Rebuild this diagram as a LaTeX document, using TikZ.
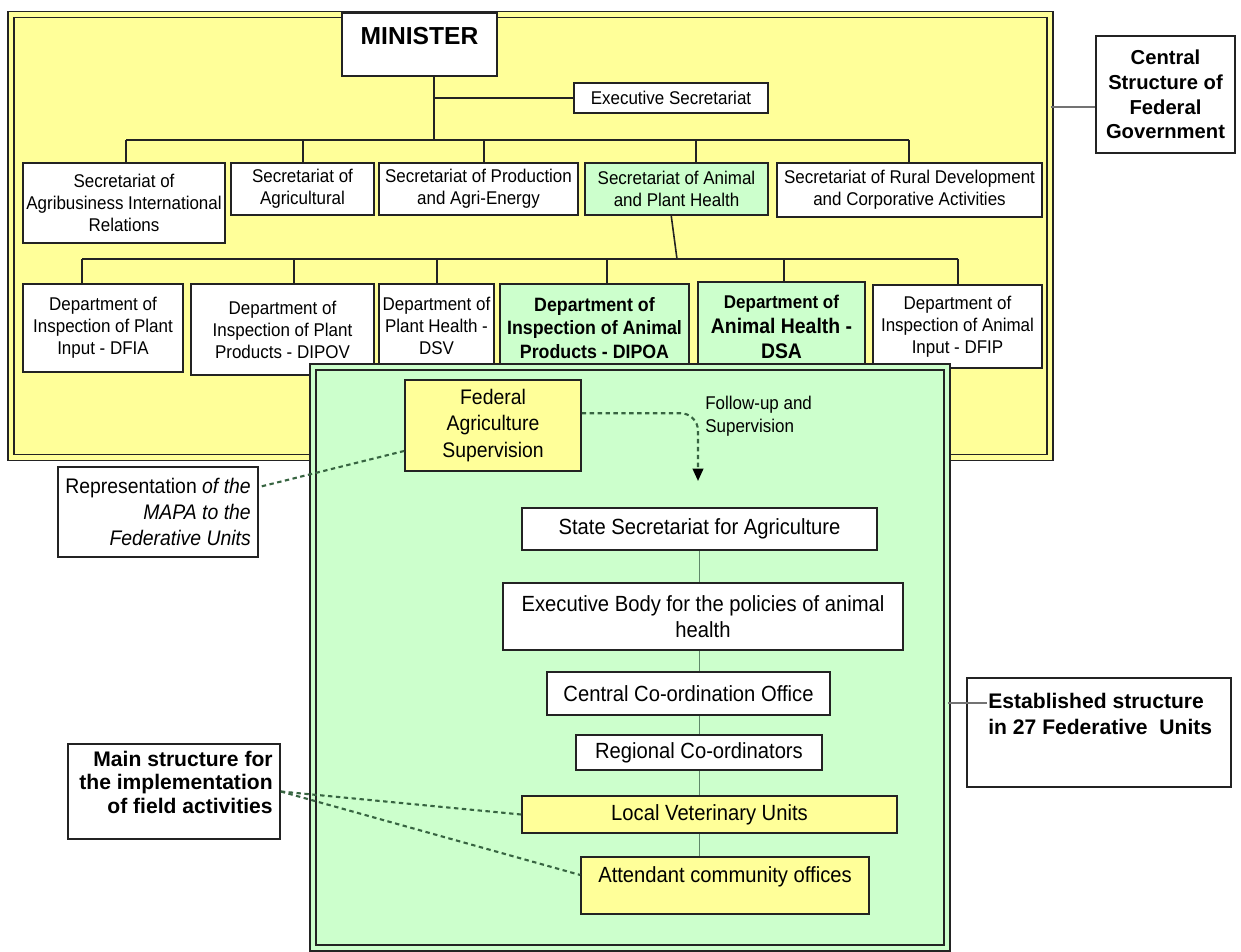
\documentclass[tikz,border=0pt]{standalone}
\usepackage{fontspec}
\setmainfont{Liberation Sans}
\newfontfamily\narrowsf[FakeStretch=0.92]{Liberation Sans}
\usetikzlibrary{arrows.meta}

\definecolor{mapayellow}{RGB}{255,255,153}
\definecolor{mapagreen}{RGB}{204,255,204}
\definecolor{boxline}{RGB}{35,35,35}
\definecolor{dashgreen}{RGB}{55,100,65}
\definecolor{stemgreen}{RGB}{95,135,105}

\tikzset{
  sz/.style 2 args={minimum width=#1*0.02cm, minimum height=#2*0.02cm},
  unit/.style={draw=boxline, line width=0.9pt, fill=white, inner sep=0pt, align=center,
    font=\narrowsf\fontsize{10.5}{12.5}\selectfont},
  lowunit/.style={unit, font=\narrowsf\fontsize{12.5}{15}\selectfont},
  note/.style={draw=boxline, line width=0.9pt, fill=white, inner sep=0pt},
  bigframe/.style={draw=boxline, line width=0.8pt, double=#1, double distance=2.6pt, fill=#1, inner sep=0pt},
  tie/.style={draw=boxline, line width=0.9pt},
  lnk/.style={draw=dashgreen, line width=1.2pt, dash pattern=on 2.5pt off 2pt},
  stem/.style={draw=stemgreen, line width=1pt},
}

\begin{document}
\begin{tikzpicture}[x=0.02cm, y=-0.02cm]
\useasboundingbox (0,0) rectangle (1241,952);

% central structure of the ministry
\node[bigframe=mapayellow, sz={1039}{443}] (yframe) at (530.5,236) {};

\node[unit, sz={155}{63}, font=\bfseries\fontsize{14}{16}\selectfont, text height=18.1pt, text depth=17.6pt] (minister) at (419.5,44.5) {MINISTER};
\node[unit, sz={194}{30}] (exec) at (671,98) {Executive Secretariat};

\node[unit, sz={202}{80}] (sab) at (124,203) {Secretariat of\\Agribusiness International\\Relations};
\node[unit, sz={143}{52}] (sag) at (302.5,189) {Secretariat of\\Agricultural};
\node[unit, sz={199}{52}] (spr) at (478.5,189) {Secretariat of Production\\and Agri-Energy};
\node[unit, sz={183}{52}, fill=mapagreen] (sap) at (676.5,189) {Secretariat of Animal\\and Plant Health};
\node[unit, sz={265}{54}] (srd) at (909.5,190) {Secretariat of Rural Development\\and Corporative Activities};

\node[unit, sz={160}{88}] (dfia) at (103,328) {Department of\\Inspection of Plant\\Input - DFIA};
\node[unit, sz={183}{91}] (dipov) at (282.5,329.5) {Department of\\Inspection of Plant\\Products - DIPOV};
\node[unit, sz={115}{84}] (dsv) at (436.5,326) {Department of\\Plant Health -\\DSV};
\node[unit, sz={189}{88}, fill=mapagreen, font=\narrowsf\bfseries\fontsize{11}{13.5}\selectfont] (dipoa) at (594.5,328) {Department of\\Inspection of Animal\\Products - DIPOA};
\node[unit, sz={167}{90}, fill=mapagreen, font=\narrowsf\bfseries\fontsize{10.5}{14}\selectfont] (dsa) at (781.5,327) {Department of\\{\fontsize{12}{14}\selectfont Animal Health -}\\{\fontsize{12}{14}\selectfont DSA}};
\node[unit, sz={169}{83}] (dfip) at (957.5,326.5) {Department of\\Inspection of Animal\\Input - DFIP};

% hierarchy lines
\coordinate (mtrunk) at (434,140);
\draw[tie] (minister.south -| mtrunk) -- (mtrunk);
\draw[tie] (mtrunk |- exec.west) -- (exec.west);
\foreach \n/\x in {sab/126, sag/303, spr/484, sap/696, srd/909}
  \draw[tie] (\x,140) coordinate (b-\n) -- (b-\n |- \n.north);
\draw[tie] (b-sab) -- (b-srd);
\foreach \n/\x in {dfia/82, dipov/294, dsv/437, dipoa/607, dsa/784, dfip/958}
  \draw[tie] (\x,259) coordinate (d-\n) -- (d-\n |- \n.north);
\draw[tie] (d-dfia) -- (d-dfip);
\coordinate (dlink) at (677,259);
\draw[tie] ([xshift=-3pt]sap.south) -- (dlink);

\node[note, sz={139}{117}, align=center, font=\bfseries\fontsize{11.5}{14}\selectfont] (central) at (1165.5,94.5) {Central\\Structure of\\Federal\\Government};
\coordinate (cgin) at ([yshift=-7pt]central.west);
\draw[draw=black!55, line width=1pt] (cgin -| yframe.east) -- (cgin);

% structure in the federative units
\node[bigframe=mapagreen, sz={634}{581}] (gframe) at (630,657.5) {};

\node[unit, sz={176}{91}, fill=mapayellow, font=\narrowsf\fontsize{12}{15}\selectfont] (fas) at (493,425.5) {Federal\\Agriculture\\Supervision};
\node[inner sep=0pt, anchor=west, align=left, font=\narrowsf\fontsize{10.5}{13}\selectfont] (fus) at (705,416) {Follow-up and\\Supervision};
\coordinate (futip) at (698,481);
\draw[lnk, rounded corners=10pt, -{Triangle[width=6pt, length=7pt, color=black]}] ([yshift=7pt]fas.east) -| (futip);

\node[note, sz={200}{90}, align=right, font=\narrowsf\fontsize{12}{15}\selectfont] (repr) at (158,512) {Representation \textit{of the}\\\textit{MAPA to the}\\\textit{Federative Units}};
\draw[lnk] ([yshift=-14.5pt]fas.west) -- ([yshift=14.2pt]repr.east);

\node[lowunit, sz={355}{42}] (state) at (699.5,529) {State Secretariat for Agriculture};
\node[lowunit, sz={400}{67}] (execbody) at (703,616.5) {Executive Body for the policies of animal\\health};
\node[lowunit, sz={283}{43}] (cco) at (688.5,693.5) {Central Co-ordination Office};
\node[lowunit, sz={246}{35}] (regco) at (699,752.5) {Regional Co-ordinators};
\node[lowunit, sz={375}{37}, fill=mapayellow] (lvu) at (709.5,814.5) {Local Veterinary Units};
\node[lowunit, sz={288}{57}, fill=mapayellow, text height=14.7pt, text depth=17.6pt] (aco) at (725,885.5) {Attendant community offices};
\foreach \a/\b in {state/execbody, execbody/cco, cco/regco, regco/lvu, lvu/aco}
  \draw[stem] (\a.south -| state.south) -- (\b.north -| state.south);

\node[note, sz={264}{109}] (est) at (1099,732.5) {};
\node[inner sep=0pt, anchor=north west, align=left, font=\bfseries\fontsize{12}{14.7}\selectfont] (esttxt) at (988,693) {Established structure\\in 27 Federative\ \ Units};
\coordinate (estin) at (987,703);
\draw[draw=black!55, line width=1pt] (estin -| gframe.east) -- (estin);

\node[note, sz={212}{95}] (mainst) at (174,791.5) {};
\node[inner sep=0pt, anchor=north east, align=right, font=\bfseries\fontsize{12}{13.3}\selectfont] (mainsttxt) at (273,751) {Main structure for\\the implementation\\of field activities};
\draw[lnk] (mainst.east) -- (lvu.west);
\draw[lnk] (mainst.east) -- ([yshift=6pt]aco.west);
\end{tikzpicture}
\end{document}
